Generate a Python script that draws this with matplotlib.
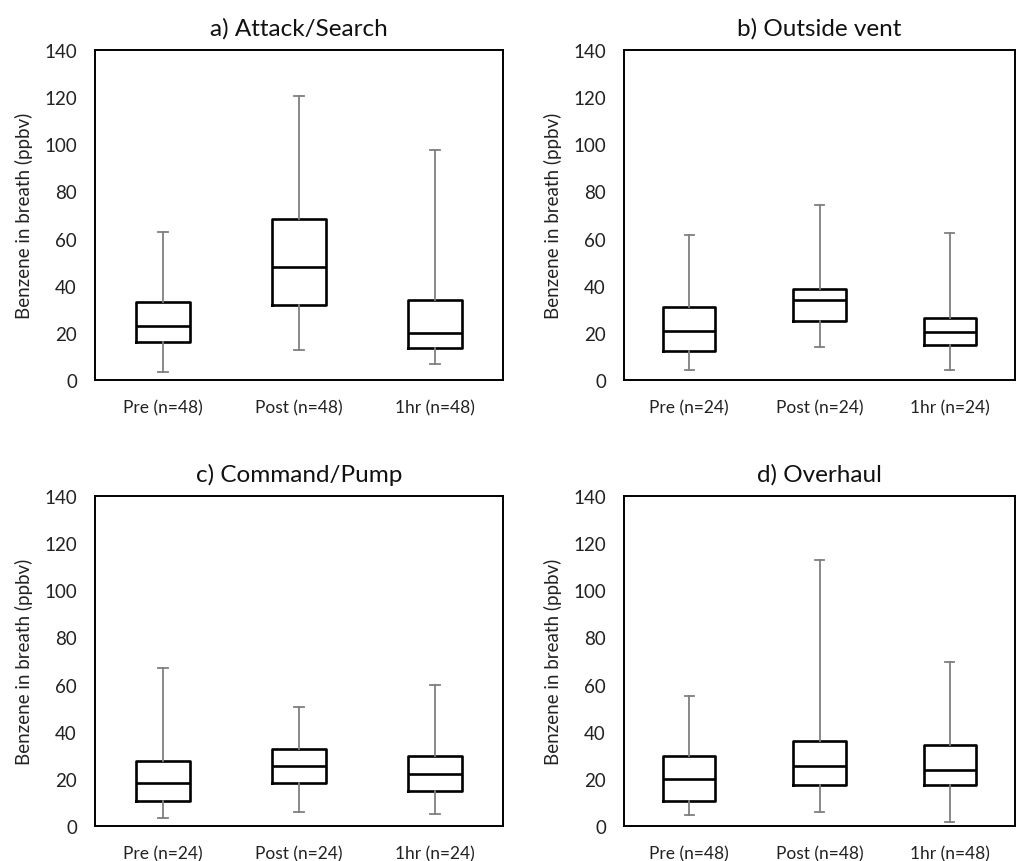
import matplotlib
matplotlib.use("Agg")
import matplotlib.pyplot as plt

plt.rcParams['font.family'] = ['Lato', 'DejaVu Sans']

groups = ["Pre", "Post", "1hr"]

titles = ["a) Attack/Search", "b) Outside vent", "c) Command/Pump", "d) Overhaul"]
n_sizes = [48, 24, 24, 48]

# whisker low, Q1, median, Q3, whisker high for Pre / Post / 1hr
attack_low = [3.4, 12.9, 6.6]
attack_q1 = [16.3, 32.0, 13.4]
attack_med = [22.9, 48.1, 19.8]
attack_q3 = [33.1, 68.2, 33.8]
attack_high = [62.9, 120.5, 97.4]

vent_low = [4.1, 14.1, 4.1]
vent_q1 = [12.2, 25.0, 14.8]
vent_med = [20.9, 33.8, 20.4]
vent_q3 = [31.1, 38.5, 26.3]
vent_high = [61.5, 74.4, 62.2]

pump_low = [3.3, 5.9, 5.2]
pump_q1 = [10.6, 18.1, 14.7]
pump_med = [18.1, 25.6, 22.2]
pump_q3 = [27.4, 32.8, 29.6]
pump_high = [66.9, 50.6, 60.0]

overhaul_low = [4.5, 5.9, 1.8]
overhaul_q1 = [10.7, 17.4, 17.4]
overhaul_med = [20.1, 25.6, 23.6]
overhaul_q3 = [29.6, 36.2, 34.4]
overhaul_high = [55.3, 112.9, 69.4]

panels = [
    (attack_low, attack_q1, attack_med, attack_q3, attack_high),
    (vent_low, vent_q1, vent_med, vent_q3, vent_high),
    (pump_low, pump_q1, pump_med, pump_q3, pump_high),
    (overhaul_low, overhaul_q1, overhaul_med, overhaul_q3, overhaul_high),
]

W, H = 1019, 862
fig = plt.figure(figsize=(W / 100, H / 100), dpi=100)

# axes boxes in pixels: left, top, right, bottom
boxes_px = [
    (95, 51, 503, 381),
    (624, 51, 1015, 381),
    (95, 497, 503, 827),
    (624, 497, 1015, 827),
]

grey = "#7f7f7f"

for i, (lo, q1, med, q3, hi) in enumerate(panels):
    l, t, r, b = boxes_px[i]
    ax = fig.add_axes([l / W, 1 - b / H, (r - l) / W, (b - t) / H])

    stats = []
    for j in range(len(groups)):
        stats.append({"whislo": lo[j], "q1": q1[j], "med": med[j],
                      "q3": q3[j], "whishi": hi[j], "fliers": []})

    ax.bxp(stats, positions=[1, 2, 3], widths=0.4, showfliers=False,
           boxprops=dict(color="black", linewidth=1.9),
           medianprops=dict(color="black", linewidth=1.9),
           whiskerprops=dict(color=grey, linewidth=1.3),
           capprops=dict(color=grey, linewidth=1.3),
           capwidths=0.07)

    ax.set_xlim(0.5, 3.5)
    ax.set_ylim(0, 140)
    ax.set_yticks(range(0, 141, 20))
    ax.set_xticks([1, 2, 3])
    ax.set_xticklabels([f"{g} (n={n_sizes[i]})" for g in groups], fontsize=12.5)
    ax.tick_params(axis="both", length=0, colors="#222222")
    ax.tick_params(axis="y", pad=13, labelsize=13.5)
    ax.tick_params(axis="x", pad=14)
    for s in ax.spines.values():
        s.set_linewidth(1.4)
        s.set_color("black")
    ax.set_ylabel("Benzene in breath (ppbv)", fontsize=13.5, labelpad=8, color="#222222")
    ax.set_title(titles[i], fontsize=17.5, pad=11, color="#111111")

fig.savefig("out.png", dpi=100)
